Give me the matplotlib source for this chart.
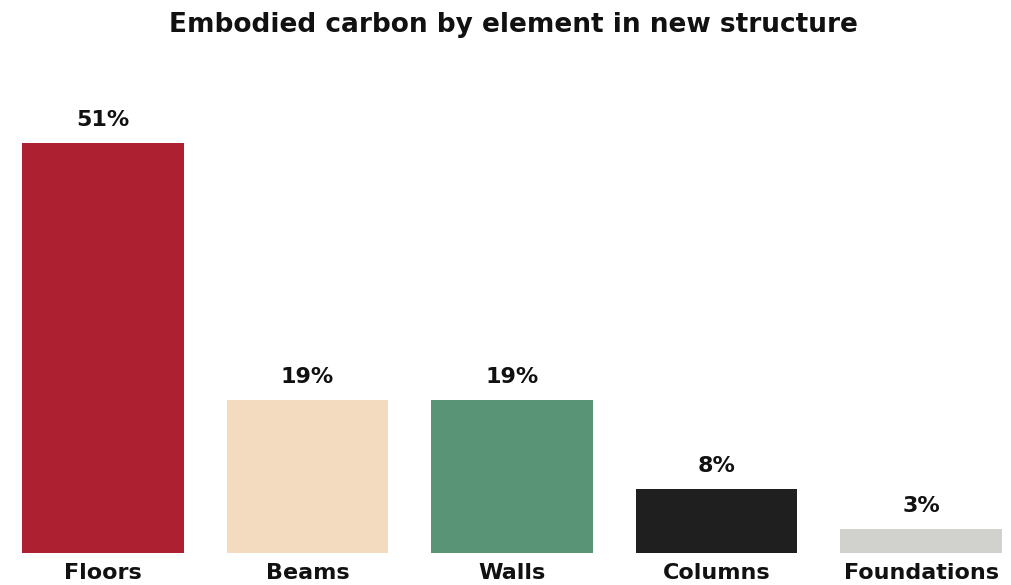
import matplotlib.pyplot as plt

# Chart data
categories = ['Floors', 'Beams', 'Walls', 'Columns', 'Foundations']
shares = [51, 19, 19, 8, 3]
colors = ['#AD2032', '#F2DBBE', '#5A9477', '#1F1F1F', '#D1D2CE']

fig = plt.figure(figsize=(10.11, 5.85), dpi=100)
ax = fig.add_axes([22 / 1011, 32 / 585, 980 / 1011, 442 / 585])

bars = ax.bar(range(len(categories)), shares, width=0.79, color=colors)
for bar, v in zip(bars, shares):
    ax.text(bar.get_x() + bar.get_width() / 2, v + 1.6, f'{v}%',
            ha='center', va='bottom', fontsize=16, fontweight='bold', color='#111111')

ax.set_xlim(-0.395, len(categories) - 1 + 0.395)
ax.set_ylim(0, 55)
ax.set_xticks(range(len(categories)))
ax.set_xticklabels(categories, fontsize=16, fontweight='bold', color='#111111')
ax.tick_params(axis='x', length=0, pad=7)
ax.set_yticks([])
for s in ax.spines.values():
    s.set_visible(False)

fig.text(0.508, 0.957, 'Embodied carbon by element in new structure',
         ha='center', va='center', fontsize=19, fontweight='bold', color='#111111')

fig.savefig('out.png', dpi=100)
